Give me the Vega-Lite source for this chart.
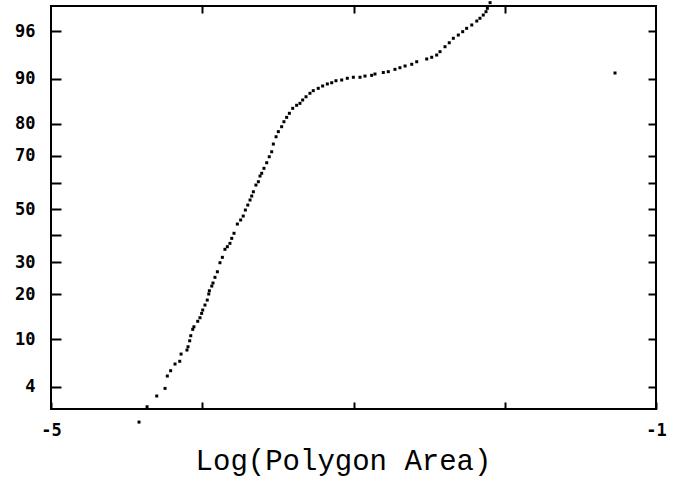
{
  "$schema": "https://vega.github.io/schema/vega-lite/v6.json",
  "width": 605,
  "height": 403,
  "autosize": {"type": "none"},
  "padding": {"left": 51, "top": 6, "right": 31, "bottom": 69},
  "background": "white",
  "config": {
    "view": {"stroke": "black", "strokeWidth": 2},
    "axis": {"domain": false, "grid": false, "tickColor": "black", "tickWidth": 2, "labelColor": "black", "labelFont": "DejaVu Sans Mono", "labelFontWeight": "bold", "labelFontSize": 17}
  },
  "data": {"values": [
    {"x": -4.418, "z": -2.099}, {"x": -4.365, "z": -1.948}, {"x": -4.301, "z": -1.842}, {"x": -4.246, "z": -1.767},
    {"x": -4.231, "z": -1.645}, {"x": -4.209, "z": -1.593}, {"x": -4.180, "z": -1.527}, {"x": -4.149, "z": -1.500},
    {"x": -4.140, "z": -1.429}, {"x": -4.101, "z": -1.389}, {"x": -4.094, "z": -1.357}, {"x": -4.083, "z": -1.298},
    {"x": -4.076, "z": -1.248}, {"x": -4.063, "z": -1.185}, {"x": -4.055, "z": -1.160}, {"x": -4.030, "z": -1.106},
    {"x": -4.015, "z": -1.071}, {"x": -4.004, "z": -1.028}, {"x": -3.997, "z": -0.995}, {"x": -3.982, "z": -0.946},
    {"x": -3.967, "z": -0.897}, {"x": -3.957, "z": -0.837}, {"x": -3.953, "z": -0.805}, {"x": -3.937, "z": -0.759},
    {"x": -3.929, "z": -0.729}, {"x": -3.916, "z": -0.673}, {"x": -3.900, "z": -0.618}, {"x": -3.883, "z": -0.529},
    {"x": -3.867, "z": -0.476}, {"x": -3.850, "z": -0.397}, {"x": -3.834, "z": -0.371}, {"x": -3.817, "z": -0.338},
    {"x": -3.805, "z": -0.289}, {"x": -3.790, "z": -0.239}, {"x": -3.768, "z": -0.148}, {"x": -3.746, "z": -0.108},
    {"x": -3.729, "z": -0.069}, {"x": -3.715, "z": -0.010}, {"x": -3.699, "z": 0.039}, {"x": -3.684, "z": 0.089},
    {"x": -3.673, "z": 0.128}, {"x": -3.662, "z": 0.170}, {"x": -3.645, "z": 0.236}, {"x": -3.629, "z": 0.269},
    {"x": -3.618, "z": 0.325}, {"x": -3.607, "z": 0.352}, {"x": -3.592, "z": 0.401}, {"x": -3.574, "z": 0.456},
    {"x": -3.557, "z": 0.515}, {"x": -3.541, "z": 0.564}, {"x": -3.530, "z": 0.640}, {"x": -3.512, "z": 0.712},
    {"x": -3.497, "z": 0.762}, {"x": -3.475, "z": 0.811}, {"x": -3.460, "z": 0.860}, {"x": -3.442, "z": 0.903},
    {"x": -3.424, "z": 0.943}, {"x": -3.402, "z": 0.992}, {"x": -3.376, "z": 1.022}, {"x": -3.354, "z": 1.041},
    {"x": -3.336, "z": 1.074}, {"x": -3.314, "z": 1.106}, {"x": -3.288, "z": 1.140}, {"x": -3.266, "z": 1.166},
    {"x": -3.233, "z": 1.189}, {"x": -3.204, "z": 1.212}, {"x": -3.173, "z": 1.232}, {"x": -3.144, "z": 1.244},
    {"x": -3.116, "z": 1.264}, {"x": -3.078, "z": 1.271}, {"x": -3.041, "z": 1.288}, {"x": -3.001, "z": 1.298},
    {"x": -2.957, "z": 1.298}, {"x": -2.924, "z": 1.310}, {"x": -2.880, "z": 1.317}, {"x": -2.858, "z": 1.330},
    {"x": -2.803, "z": 1.345}, {"x": -2.770, "z": 1.353}, {"x": -2.726, "z": 1.376}, {"x": -2.693, "z": 1.392},
    {"x": -2.659, "z": 1.409}, {"x": -2.615, "z": 1.426}, {"x": -2.582, "z": 1.451}, {"x": -2.516, "z": 1.478},
    {"x": -2.483, "z": 1.495}, {"x": -2.450, "z": 1.517}, {"x": -2.428, "z": 1.550}, {"x": -2.395, "z": 1.599},
    {"x": -2.367, "z": 1.638}, {"x": -2.340, "z": 1.682}, {"x": -2.307, "z": 1.714}, {"x": -2.278, "z": 1.747},
    {"x": -2.252, "z": 1.780}, {"x": -2.218, "z": 1.813}, {"x": -2.185, "z": 1.852}, {"x": -2.164, "z": 1.879},
    {"x": -2.142, "z": 1.911}, {"x": -2.124, "z": 1.944}, {"x": -2.115, "z": 1.977}, {"x": -2.097, "z": 2.033},
    {"x": -1.271, "z": 1.340}
  ]},
  "layer": [
    {
      "mark": {"type": "point", "shape": "square", "filled": true, "color": "black", "size": 9, "opacity": 1},
      "encoding": {
        "x": {"field": "x", "type": "quantitative", "scale": {"domain": [-5, -1], "nice": false, "zero": false},
          "axis": {"orient": "bottom", "values": [-5, -4, -3, -2, -1], "tickSize": -7, "labelPadding": 20, "labelFlush": false,
            "labelExpr": "datum.value == -5 ? '-5' : (datum.value == -1 ? '-1' : '')",
            "title": "Log(Polygon Area)", "titleFont": "Liberation Mono", "titleFontSize": 29, "titleFontWeight": "normal",
            "titleColor": "black", "titleBaseline": "alphabetic", "titleY": 60, "titleX": 292}},
        "y": {"field": "z", "type": "quantitative", "scale": {"domain": [-1.97, 2.0], "nice": false, "zero": false},
          "axis": {"orient": "left", "title": null, "tickSize": -10, "labelPadding": 26,
            "values": [-1.751, -1.2816, -0.8416, -0.5244, -0.2533, 0, 0.2533, 0.5244, 0.8416, 1.2816, 1.751],
            "labelExpr": "(abs(datum.value) > 0.2 && abs(datum.value) < 0.3) ? '' : '' + round(cumulativeNormal(datum.value) * 100)"}}
      }
    },
    {
      "mark": {"type": "point", "opacity": 0},
      "encoding": {
        "x": {"field": "x", "type": "quantitative",
          "axis": {"orient": "top", "values": [-4, -3, -2], "tickSize": -7, "labels": false, "title": null}},
        "y": {"field": "z", "type": "quantitative",
          "axis": {"orient": "right", "title": null, "tickSize": -8, "labels": false,
            "values": [-1.751, -1.2816, -0.8416, -0.5244, -0.2533, 0, 0.2533, 0.5244, 0.8416, 1.2816, 1.751]}}
      }
    }
  ],
  "resolve": {"axis": {"x": "independent", "y": "independent"}}
}
